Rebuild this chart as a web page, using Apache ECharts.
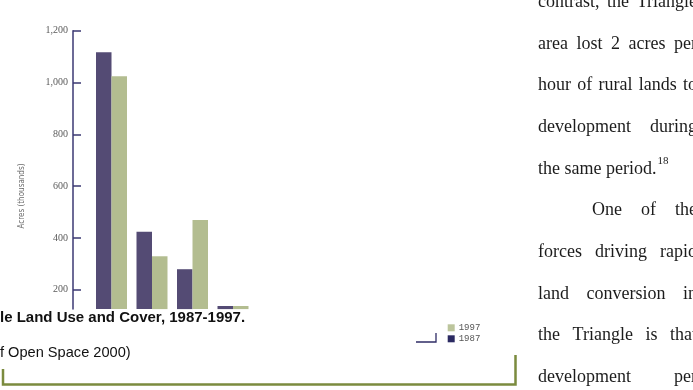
<!DOCTYPE html>
<html><head><meta charset="utf-8">
<script src="https://cdn.jsdelivr.net/npm/echarts@6/dist/echarts.min.js"></script>
<style>html,body{margin:0;padding:0;background:#fff;overflow:hidden}#c{width:693px;height:390px;}</style>
</head><body><div id="c"></div>
<script>
// ---- data ----
const categories = ['Forest', 'Agriculture', 'Developed', 'Other'];
const seriesNames = ['1987', '1997'];
const acres1987 = [1117, 424, 279, 137];
const acres1997 = [1024, 329, 469, 137];
const yTickValues = [200, 400, 600, 800, 1000, 1200];
const axisTitle = 'Acres (thousands)';
const captionTitle = 'le Land Use and Cover, 1987-1997.';
const captionSource = 'f Open Space 2000)';
const bodyLines = [
  ['contrast,', 'the', 'Triangle'],
  ['area', 'lost', '2', 'acres', 'per'],
  ['hour', 'of', 'rural', 'lands', 'to'],
  ['development', 'during'],
  ['the same period.'],
  ['One', 'of', 'the'],
  ['forces', 'driving', 'rapid'],
  ['land', 'conversion', 'in'],
  ['the', 'Triangle', 'is', 'that'],
  ['development', 'per']
];
const footnoteMark = '18';

// ---- page layout ----
const colLeft = 538, colRight = 697, indent = 54;
const lastLineOfParagraph = 4, firstLineOfParagraph = 5;
const lineBaseline0 = 7.6, lineStep = 41.7;
const BODY_FONT = '18px "Liberation Serif"';

const NAVY = '#3b3873', DARK = '#544b74', GREEN = '#b3bd90';
const chart = echarts.init(document.getElementById('c'), null, {renderer: 'canvas'});

const ctx = document.createElement('canvas').getContext('2d');
ctx.font = BODY_FONT;
const graphics = [];
bodyLines.forEach((words, li) => {
  const base = lineBaseline0 + li * lineStep;
  const start = colLeft + (li === firstLineOfParagraph ? indent : 0);
  const widths = words.map(w => ctx.measureText(w).width);
  const total = widths.reduce((a, b) => a + b, 0);
  const gap = (li === lastLineOfParagraph || words.length < 2)
    ? ctx.measureText(' ').width
    : (colRight - start - total) / (words.length - 1);
  let x = start;
  words.forEach((w, wi) => {
    graphics.push({type: 'text', x: x, y: base - 5.5, silent: true,
      style: {text: w, fill: '#1c1c1c', fontFamily: 'Liberation Serif', fontSize: 18,
        align: 'left', verticalAlign: 'middle'}});
    x += widths[wi] + gap;
  });
  if (li === lastLineOfParagraph) {
    graphics.push({type: 'text', x: x - gap + 1, y: base - 13, style: {text: footnoteMark, fill: '#1c1c1c',
      fontFamily: 'Liberation Serif', fontSize: 11, align: 'left', verticalAlign: 'middle'}});
  }
});
graphics.push({type: 'text', x: 21.5, y: 196, rotation: Math.PI / 2,
  style: {text: axisTitle, fill: '#6a6a6a', fontFamily: 'DejaVu Sans Condensed', fontSize: 8,
    align: 'center', verticalAlign: 'middle'}});
graphics.push({type: 'text', x: 0, y: 318, style: {text: captionTitle, fill: '#111',
  fontFamily: 'Liberation Sans', fontWeight: 'bold', fontSize: 15, align: 'left', verticalAlign: 'middle'}});
graphics.push({type: 'text', x: 0, y: 352.5, style: {text: captionSource, fill: '#111',
  fontFamily: 'Liberation Sans', fontSize: 14.6, align: 'left', verticalAlign: 'middle'}});
graphics.push({type: 'polyline', shape: {points: [[3, 369], [3, 384.5], [515.5, 384.5], [515.5, 355]]},
  style: {stroke: '#7b8b3e', lineWidth: 2.5, fill: null}});
graphics.push({type: 'polyline', shape: {points: [[416, 342], [436, 342], [436, 333]]},
  style: {stroke: '#2f2c66', lineWidth: 1.3, fill: null}});

chart.setOption({
  animation: false,
  backgroundColor: '#ffffff',
  grid: {left: 91.25, top: 30.7, width: 162, height: 278.4, containLabel: false},
  legend: {
    orient: 'vertical', left: 447.7, top: 323.3, padding: 0, itemWidth: 7, itemHeight: 7, itemGap: 2,
    icon: 'rect', selectedMode: false,
    textStyle: {fontSize: 9, lineHeight: 7, color: '#555', fontFamily: 'Liberation Mono', padding: [0, 0, 0, -1]},
    data: [
      {name: seriesNames[1], itemStyle: {color: '#bcc59c'}},
      {name: seriesNames[0], itemStyle: {color: '#2b2a62'}}
    ]
  },
  xAxis: {
    type: 'category', data: categories, boundaryGap: true,
    axisLine: {show: false}, axisTick: {show: false}, axisLabel: {show: false}, splitLine: {show: false}
  },
  yAxis: {
    type: 'value', min: 125, max: 1200, offset: 18.25,
    axisLine: {show: true, lineStyle: {color: NAVY, width: 1.5}},
    axisTick: {show: true, inside: true, length: 8, customValues: yTickValues, lineStyle: {color: NAVY, width: 1.5}},
    axisLabel: {customValues: yTickValues, margin: 5, fontSize: 10, color: '#5a5a5a',
      fontFamily: 'Liberation Serif',
      formatter: v => v.toLocaleString('en-US')},
    splitLine: {show: false}
  },
  series: [
    {name: seriesNames[0], type: 'bar', data: acres1987, barWidth: 15.5, barGap: '0%',
      itemStyle: {color: DARK}, clip: true},
    {name: seriesNames[1], type: 'bar', data: acres1997, barWidth: 15.5, barGap: '0%',
      itemStyle: {color: GREEN}, clip: true}
  ],
  graphic: graphics
});
</script>
</body></html>
